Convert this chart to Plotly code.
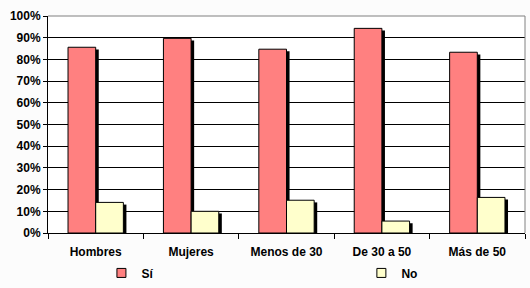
import plotly.graph_objects as go

categories = ["Hombres", "Mujeres", "Menos de 30", "De 30 a 50", "Más de 50"]
si_values = [85.6, 89.7, 84.7, 94.3, 83.3]
no_values = [14.1, 10.0, 15.1, 5.5, 16.4]
series_names = ["Sí", "No"]
y_ticks = list(range(0, 101, 10))
y_tick_labels = [f"{v}%" for v in y_ticks]

SI_COLOR = "#FF8080"
NO_COLOR = "#FFFFCC"
BAR_W = 0.29
SH_DX = 0.032
SH_DY = 1.0
FAMILY = "Liberation Sans, Arial, sans-serif"
BOLD = dict(family=FAMILY, size=12, color="black", weight="bold")

fig = go.Figure()

def add_series(values, offset, color, name, legend_id):
    fig.add_trace(go.Bar(
        x=categories, y=[v - SH_DY for v in values], width=BAR_W, offset=offset + SH_DX,
        marker=dict(color="black", line=dict(width=0)), showlegend=False, hoverinfo="skip"))
    fig.add_trace(go.Bar(
        x=categories, y=values, width=BAR_W, offset=offset, name=name,
        marker=dict(color=color, line=dict(color="black", width=1)), showlegend=False))
    fig.add_trace(go.Scatter(
        x=[None], y=[None], mode="markers", name=name, legend=legend_id,
        marker=dict(symbol="square", size=9, color=color, line=dict(color="black", width=1))))

add_series(si_values, -BAR_W, SI_COLOR, series_names[0], "legend")
add_series(no_values, 0.0, NO_COLOR, series_names[1], "legend2")

leg_common = dict(orientation="h", xanchor="left", yanchor="middle", y=-0.184,
                  font=BOLD, bgcolor="rgba(0,0,0,0)", itemclick=False, itemdoubleclick=False)

fig.update_layout(
    width=530, height=288,
    margin=dict(l=48, r=5, t=16, b=55, autoexpand=False),
    paper_bgcolor="#FCFCFC", plot_bgcolor="white",
    barmode="overlay", font=dict(family=FAMILY, size=12, color="black"),
    showlegend=True,
    legend=dict(x=0.112, **leg_common),
    legend2=dict(x=0.657, **leg_common),
    xaxis=dict(range=[-0.5, 4.5], showgrid=False, showline=True, linecolor="black", linewidth=1,
               ticks="outside", tickson="boundaries", ticklen=5, tickcolor="black",
               ticklabelstandoff=8, tickfont=BOLD),
    yaxis=dict(range=[0, 100], tickvals=y_ticks, ticktext=y_tick_labels, showgrid=True,
               gridcolor="black", gridwidth=1, showline=True, linecolor="black", linewidth=1,
               ticks="outside", ticklen=4, tickcolor="black", zeroline=False, tickfont=BOLD),
    shapes=[
        dict(type="line", xref="paper", yref="paper", x0=0, x1=1, y0=1, y1=1,
             line=dict(color="#808080", width=1), layer="above"),
        dict(type="line", xref="paper", yref="paper", x0=1, x1=1, y0=0, y1=1,
             line=dict(color="#808080", width=1), layer="above"),
    ],
)

fig.write_html("out.html")
